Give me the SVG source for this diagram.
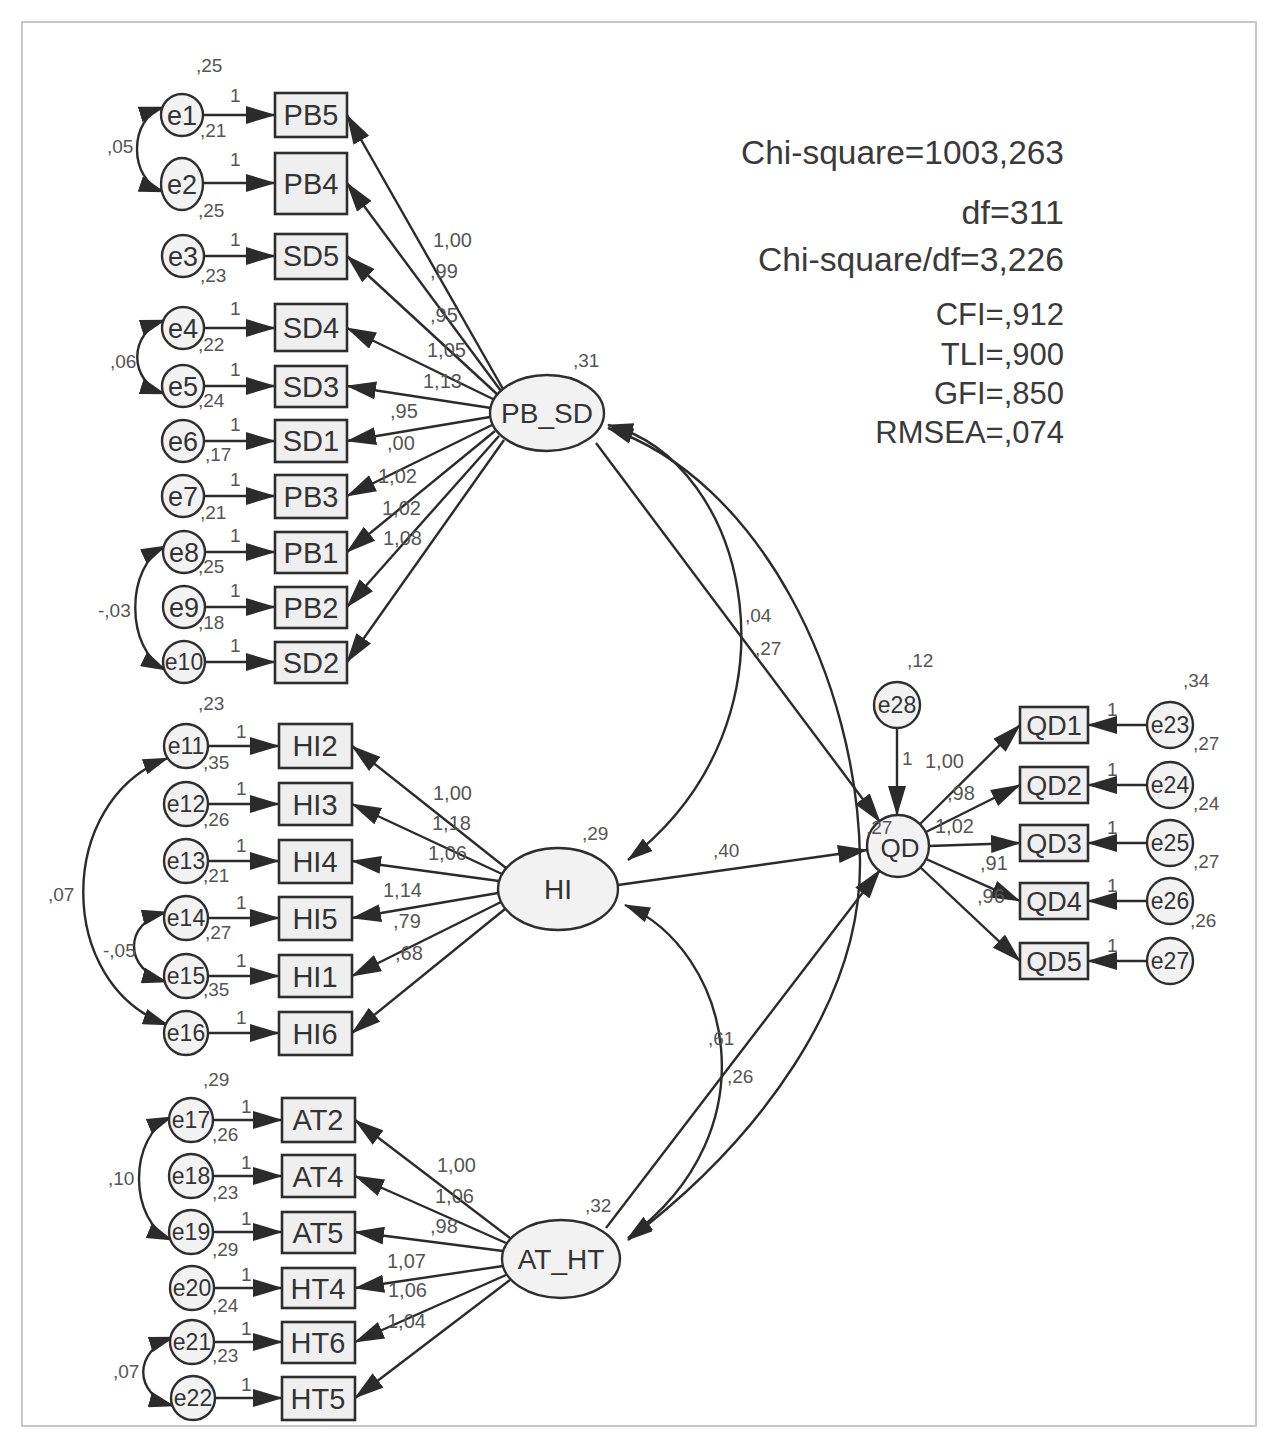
<svg xmlns="http://www.w3.org/2000/svg" width="1278" height="1449" viewBox="0 0 1278 1449">
<defs>
<marker id="a" markerUnits="userSpaceOnUse" markerWidth="30" markerHeight="18" refX="29" refY="9" orient="auto-start-reverse" viewBox="0 0 30 18"><path d="M0,0 L30,9 L0,18 z" fill="#2b2b2b"/></marker>
<marker id="s" markerUnits="userSpaceOnUse" markerWidth="26" markerHeight="16" refX="25" refY="8" orient="auto-start-reverse" viewBox="0 0 26 16"><path d="M0,0 L26,8 L0,16 z" fill="#2b2b2b"/></marker>
</defs>
<style>
.bx{fill:#efefef;stroke:#2e2e2e;stroke-width:2.6}
.el{fill:#f2f2f2;stroke:#2e2e2e;stroke-width:2.4}
.ln{fill:none;stroke:#2b2b2b;stroke-width:2.4}
.cv{fill:none;stroke:#2b2b2b;stroke-width:2.4}
.lb{font-family:"Liberation Sans",Arial,sans-serif;font-size:29px;fill:#333;text-anchor:middle}
.el1{font-family:"Liberation Sans",Arial,sans-serif;font-size:27px;fill:#333;text-anchor:middle}
.el2{font-family:"Liberation Sans",Arial,sans-serif;font-size:23px;fill:#333;text-anchor:middle}
.n{font-family:"Liberation Sans",Arial,sans-serif;font-size:19px;fill:#555}
.m{font-family:"Liberation Sans",Arial,sans-serif;font-size:20px;fill:#555}
.st{font-family:"Liberation Sans",Arial,sans-serif;font-size:31px;fill:#3a3a3a;text-anchor:end}
</style>
<rect x="0" y="0" width="1278" height="1449" fill="#ffffff"/>
<rect x="22" y="22" width="1234" height="1404" fill="none" stroke="#c8c8c8" stroke-width="2"/>

<g id="connectors">
<line class="ln" x1="203" y1="115" x2="275" y2="115" marker-end="url(#a)"/>
<line class="ln" x1="203" y1="183" x2="275" y2="183" marker-end="url(#a)"/>
<line class="ln" x1="204" y1="256" x2="275" y2="256" marker-end="url(#a)"/>
<line class="ln" x1="204" y1="328" x2="275" y2="328" marker-end="url(#a)"/>
<line class="ln" x1="204" y1="386" x2="275" y2="386" marker-end="url(#a)"/>
<line class="ln" x1="204" y1="441" x2="275" y2="441" marker-end="url(#a)"/>
<line class="ln" x1="204" y1="496" x2="275" y2="496" marker-end="url(#a)"/>
<line class="ln" x1="205" y1="552" x2="275" y2="552" marker-end="url(#a)"/>
<line class="ln" x1="205" y1="607" x2="275" y2="607" marker-end="url(#a)"/>
<line class="ln" x1="205" y1="662" x2="275" y2="662" marker-end="url(#a)"/>
<line class="ln" x1="207" y1="746" x2="279" y2="746" marker-end="url(#a)"/>
<line class="ln" x1="207" y1="804" x2="279" y2="804" marker-end="url(#a)"/>
<line class="ln" x1="207" y1="861" x2="279" y2="861" marker-end="url(#a)"/>
<line class="ln" x1="207" y1="918" x2="279" y2="918" marker-end="url(#a)"/>
<line class="ln" x1="207" y1="976" x2="279" y2="976" marker-end="url(#a)"/>
<line class="ln" x1="207" y1="1033" x2="279" y2="1033" marker-end="url(#a)"/>
<line class="ln" x1="212" y1="1120" x2="282" y2="1120" marker-end="url(#a)"/>
<line class="ln" x1="212" y1="1176" x2="282" y2="1176" marker-end="url(#a)"/>
<line class="ln" x1="212" y1="1232" x2="282" y2="1232" marker-end="url(#a)"/>
<line class="ln" x1="213" y1="1288" x2="282" y2="1288" marker-end="url(#a)"/>
<line class="ln" x1="213" y1="1342" x2="282" y2="1342" marker-end="url(#a)"/>
<line class="ln" x1="214" y1="1398" x2="282" y2="1398" marker-end="url(#a)"/>

<line class="ln" x1="503" y1="389" x2="347" y2="115" marker-end="url(#a)"/>
<line class="ln" x1="501" y1="391" x2="347" y2="183" marker-end="url(#a)"/>
<line class="ln" x1="498" y1="395" x2="347" y2="256" marker-end="url(#a)"/>
<line class="ln" x1="495" y1="400" x2="347" y2="328" marker-end="url(#a)"/>
<line class="ln" x1="491" y1="408" x2="347" y2="386" marker-end="url(#a)"/>
<line class="ln" x1="490" y1="417" x2="347" y2="441" marker-end="url(#a)"/>
<line class="ln" x1="492" y1="425" x2="347" y2="496" marker-end="url(#a)"/>
<line class="ln" x1="495" y1="431" x2="347" y2="552" marker-end="url(#a)"/>
<line class="ln" x1="499" y1="436" x2="347" y2="607" marker-end="url(#a)"/>
<line class="ln" x1="504" y1="440" x2="347" y2="662" marker-end="url(#a)"/>
<line class="ln" x1="506" y1="868" x2="352" y2="746" marker-end="url(#a)"/>
<line class="ln" x1="502" y1="874" x2="352" y2="804" marker-end="url(#a)"/>
<line class="ln" x1="499" y1="881" x2="352" y2="861" marker-end="url(#a)"/>
<line class="ln" x1="498" y1="893" x2="352" y2="918" marker-end="url(#a)"/>
<line class="ln" x1="501" y1="902" x2="352" y2="976" marker-end="url(#a)"/>
<line class="ln" x1="505" y1="909" x2="352" y2="1033" marker-end="url(#a)"/>
<line class="ln" x1="510" y1="1238" x2="355" y2="1120" marker-end="url(#a)"/>
<line class="ln" x1="506" y1="1243" x2="355" y2="1176" marker-end="url(#a)"/>
<line class="ln" x1="503" y1="1251" x2="355" y2="1232" marker-end="url(#a)"/>
<line class="ln" x1="503" y1="1266" x2="355" y2="1288" marker-end="url(#a)"/>
<line class="ln" x1="506" y1="1275" x2="355" y2="1342" marker-end="url(#a)"/>
<line class="ln" x1="510" y1="1280" x2="355" y2="1398" marker-end="url(#a)"/>

<path class="cv" d="M164,107 C128,118 128,180 164,192" marker-start="url(#s)" marker-end="url(#s)"/>
<path class="cv" d="M165,320 C128,332 128,382 165,394" marker-start="url(#s)" marker-end="url(#s)"/>
<path class="cv" d="M166,546 C125,565 125,650 166,670" marker-start="url(#s)" marker-end="url(#s)"/>
<path class="cv" d="M168,758 C55,800 55,985 168,1025" marker-start="url(#s)" marker-end="url(#s)"/>
<path class="cv" d="M167,912 C123,922 123,970 167,982" marker-start="url(#s)" marker-end="url(#s)"/>
<path class="cv" d="M172,1117 C128,1135 128,1222 172,1240" marker-start="url(#s)" marker-end="url(#s)"/>
<path class="cv" d="M174,1337 C133,1350 133,1395 174,1406" marker-start="url(#s)" marker-end="url(#s)"/>

<path class="cv" d="M608,425 C750,460 810,720 628,860" marker-start="url(#s)" marker-end="url(#s)"/>
<path class="cv" d="M608,428 C760,480 858,680 860,860 C862,1000 760,1140 628,1240" marker-start="url(#s)" marker-end="url(#s)"/>
<path class="cv" d="M625,905 C730,950 775,1130 628,1238" marker-start="url(#s)" marker-end="url(#s)"/>

<line class="ln" x1="596" y1="443" x2="880" y2="822" marker-end="url(#a)"/>
<line class="ln" x1="618" y1="885" x2="867" y2="850" marker-end="url(#a)"/>
<line class="ln" x1="606" y1="1228" x2="880" y2="870" marker-end="url(#a)"/>
<line class="ln" x1="897" y1="728" x2="897" y2="815" marker-end="url(#a)"/>

<line class="ln" x1="920" y1="824" x2="1020" y2="725" marker-end="url(#a)"/>
<line class="ln" x1="926" y1="832" x2="1020" y2="785" marker-end="url(#a)"/>
<line class="ln" x1="929" y1="846" x2="1020" y2="843" marker-end="url(#a)"/>
<line class="ln" x1="926" y1="859" x2="1020" y2="901" marker-end="url(#a)"/>
<line class="ln" x1="920" y1="867" x2="1020" y2="961" marker-end="url(#a)"/>
<line class="ln" x1="1147" y1="725" x2="1088" y2="725" marker-end="url(#a)"/>
<line class="ln" x1="1147" y1="785" x2="1088" y2="785" marker-end="url(#a)"/>
<line class="ln" x1="1147" y1="843" x2="1088" y2="843" marker-end="url(#a)"/>
<line class="ln" x1="1147" y1="901" x2="1088" y2="901" marker-end="url(#a)"/>
<line class="ln" x1="1147" y1="961" x2="1088" y2="961" marker-end="url(#a)"/>
</g>

<g id="PB5"><rect class="bx" x="275" y="93" width="72" height="44"/><text class="lb" x="311" y="125">PB5</text></g>
<g id="PB4"><rect class="bx" x="275" y="153" width="72" height="61"/><text class="lb" x="311" y="194">PB4</text></g>
<g id="SD5"><rect class="bx" x="275" y="234" width="72" height="45"/><text class="lb" x="311" y="266">SD5</text></g>
<g id="SD4"><rect class="bx" x="275" y="304" width="72" height="47"/><text class="lb" x="311" y="338">SD4</text></g>
<g id="SD3"><rect class="bx" x="275" y="366" width="72" height="41"/><text class="lb" x="311" y="397">SD3</text></g>
<g id="SD1"><rect class="bx" x="275" y="420" width="72" height="42"/><text class="lb" x="311" y="451">SD1</text></g>
<g id="PB3"><rect class="bx" x="275" y="475" width="72" height="43"/><text class="lb" x="311" y="507">PB3</text></g>
<g id="PB1"><rect class="bx" x="275" y="532" width="72" height="41"/><text class="lb" x="311" y="563">PB1</text></g>
<g id="PB2"><rect class="bx" x="275" y="587" width="72" height="41"/><text class="lb" x="311" y="618">PB2</text></g>
<g id="SD2"><rect class="bx" x="275" y="642" width="72" height="41"/><text class="lb" x="311" y="673">SD2</text></g>

<g id="HI2"><rect class="bx" x="279" y="724" width="73" height="44"/><text class="lb" x="315" y="756">HI2</text></g>
<g id="HI3"><rect class="bx" x="279" y="783" width="73" height="42"/><text class="lb" x="315" y="815">HI3</text></g>
<g id="HI4"><rect class="bx" x="279" y="840" width="73" height="43"/><text class="lb" x="315" y="872">HI4</text></g>
<g id="HI5"><rect class="bx" x="279" y="897" width="73" height="43"/><text class="lb" x="315" y="929">HI5</text></g>
<g id="HI1"><rect class="bx" x="279" y="955" width="73" height="42"/><text class="lb" x="315" y="987">HI1</text></g>
<g id="HI6"><rect class="bx" x="279" y="1012" width="73" height="43"/><text class="lb" x="315" y="1044">HI6</text></g>

<g id="AT2"><rect class="bx" x="282" y="1098" width="73" height="44"/><text class="lb" x="318" y="1130">AT2</text></g>
<g id="AT4"><rect class="bx" x="282" y="1155" width="73" height="42"/><text class="lb" x="318" y="1187">AT4</text></g>
<g id="AT5"><rect class="bx" x="282" y="1212" width="73" height="41"/><text class="lb" x="318" y="1243">AT5</text></g>
<g id="HT4"><rect class="bx" x="282" y="1268" width="73" height="40"/><text class="lb" x="318" y="1299">HT4</text></g>
<g id="HT6"><rect class="bx" x="282" y="1322" width="73" height="41"/><text class="lb" x="318" y="1353">HT6</text></g>
<g id="HT5"><rect class="bx" x="282" y="1377" width="73" height="43"/><text class="lb" x="318" y="1409">HT5</text></g>

<g id="QD1"><rect class="bx" x="1020" y="707" width="68" height="36"/><text class="lb" x="1054" y="735" style="font-size:27px">QD1</text></g>
<g id="QD2"><rect class="bx" x="1020" y="767" width="68" height="36"/><text class="lb" x="1054" y="795" style="font-size:27px">QD2</text></g>
<g id="QD3"><rect class="bx" x="1020" y="825" width="68" height="36"/><text class="lb" x="1054" y="853" style="font-size:27px">QD3</text></g>
<g id="QD4"><rect class="bx" x="1020" y="883" width="68" height="36"/><text class="lb" x="1054" y="911" style="font-size:27px">QD4</text></g>
<g id="QD5"><rect class="bx" x="1020" y="943" width="68" height="36"/><text class="lb" x="1054" y="971" style="font-size:27px">QD5</text></g>

<g id="PB_SD"><ellipse class="el" cx="547" cy="413" rx="57" ry="38"/><text class="lb" x="547" y="423" style="font-size:28px">PB_SD</text></g>
<g id="HI"><ellipse class="el" cx="558" cy="889" rx="60" ry="41"/><text class="lb" x="558" y="899" style="font-size:28px">HI</text></g>
<g id="AT_HT"><ellipse class="el" cx="561" cy="1259" rx="59" ry="39"/><text class="lb" x="561" y="1269" style="font-size:28px">AT_HT</text></g>
<g id="QD"><circle class="el" cx="898" cy="846" r="31"/><text class="lb" x="900" y="857" style="font-size:26px">QD</text></g>

<g id="e1"><circle class="el" cx="182" cy="115" r="21"/><text class="el1" x="182" y="125">e1</text></g>
<g id="e2"><ellipse class="el" cx="182" cy="184" rx="21" ry="26"/><text class="el1" x="182" y="194">e2</text></g>
<g id="e3"><circle class="el" cx="183" cy="256" r="21"/><text class="el1" x="183" y="266">e3</text></g>
<g id="e4"><circle class="el" cx="183" cy="328" r="21"/><text class="el1" x="183" y="338">e4</text></g>
<g id="e5"><circle class="el" cx="183" cy="386" r="21"/><text class="el1" x="183" y="396">e5</text></g>
<g id="e6"><circle class="el" cx="183" cy="441" r="21"/><text class="el1" x="183" y="451">e6</text></g>
<g id="e7"><circle class="el" cx="183" cy="496" r="21"/><text class="el1" x="183" y="506">e7</text></g>
<g id="e8"><circle class="el" cx="184" cy="552" r="21"/><text class="el1" x="184" y="562">e8</text></g>
<g id="e9"><circle class="el" cx="184" cy="607" r="21"/><text class="el1" x="184" y="617">e9</text></g>
<g id="e10"><circle class="el" cx="184" cy="662" r="21"/><text class="el2" x="184" y="670">e10</text></g>
<g id="e11"><circle class="el" cx="186" cy="746" r="22"/><text class="el2" x="186" y="754">e11</text></g>
<g id="e12"><circle class="el" cx="186" cy="804" r="22"/><text class="el2" x="186" y="812">e12</text></g>
<g id="e13"><circle class="el" cx="186" cy="861" r="22"/><text class="el2" x="186" y="869">e13</text></g>
<g id="e14"><circle class="el" cx="186" cy="918" r="22"/><text class="el2" x="186" y="926">e14</text></g>
<g id="e15"><circle class="el" cx="186" cy="976" r="22"/><text class="el2" x="186" y="984">e15</text></g>
<g id="e16"><circle class="el" cx="186" cy="1033" r="22"/><text class="el2" x="186" y="1041">e16</text></g>
<g id="e17"><circle class="el" cx="191" cy="1120" r="22"/><text class="el2" x="191" y="1128">e17</text></g>
<g id="e18"><circle class="el" cx="191" cy="1176" r="22"/><text class="el2" x="191" y="1184">e18</text></g>
<g id="e19"><circle class="el" cx="191" cy="1232" r="22"/><text class="el2" x="191" y="1240">e19</text></g>
<g id="e20"><circle class="el" cx="192" cy="1288" r="22"/><text class="el2" x="192" y="1296">e20</text></g>
<g id="e21"><circle class="el" cx="192" cy="1342" r="22"/><text class="el2" x="192" y="1350">e21</text></g>
<g id="e22"><circle class="el" cx="193" cy="1398" r="22"/><text class="el2" x="193" y="1406">e22</text></g>
<g id="e23"><circle class="el" cx="1170" cy="725" r="23"/><text class="el2" x="1170" y="733">e23</text></g>
<g id="e24"><circle class="el" cx="1170" cy="785" r="23"/><text class="el2" x="1170" y="793">e24</text></g>
<g id="e25"><circle class="el" cx="1170" cy="843" r="23"/><text class="el2" x="1170" y="851">e25</text></g>
<g id="e26"><circle class="el" cx="1170" cy="901" r="23"/><text class="el2" x="1170" y="909">e26</text></g>
<g id="e27"><circle class="el" cx="1170" cy="961" r="23"/><text class="el2" x="1170" y="969">e27</text></g>
<g id="e28"><circle class="el" cx="897" cy="705" r="23"/><text class="el2" x="897" y="713">e28</text></g>

<g id="labels">
<text class="n" x="196" y="72">,25</text>
<text class="n" x="200" y="137">,21</text>
<text class="n" x="198" y="217">,25</text>
<text class="n" x="200" y="282">,23</text>
<text class="n" x="198" y="351">,22</text>
<text class="n" x="198" y="407">,24</text>
<text class="n" x="205" y="461">,17</text>
<text class="n" x="200" y="519">,21</text>
<text class="n" x="198" y="573">,25</text>
<text class="n" x="198" y="629">,18</text>
<text class="n" x="198" y="710">,23</text>
<text class="n" x="203" y="769">,35</text>
<text class="n" x="203" y="826">,26</text>
<text class="n" x="203" y="882">,21</text>
<text class="n" x="205" y="939">,27</text>
<text class="n" x="203" y="996">,35</text>
<text class="n" x="203" y="1086">,29</text>
<text class="n" x="212" y="1141">,26</text>
<text class="n" x="212" y="1199">,23</text>
<text class="n" x="212" y="1256">,29</text>
<text class="n" x="212" y="1312">,24</text>
<text class="n" x="212" y="1362">,23</text>

<text class="n" x="230" y="102">1</text>
<text class="n" x="230" y="166">1</text>
<text class="n" x="230" y="246">1</text>
<text class="n" x="230" y="315">1</text>
<text class="n" x="230" y="376">1</text>
<text class="n" x="230" y="431">1</text>
<text class="n" x="230" y="486">1</text>
<text class="n" x="230" y="542">1</text>
<text class="n" x="230" y="597">1</text>
<text class="n" x="230" y="652">1</text>
<text class="n" x="236" y="738">1</text>
<text class="n" x="236" y="795">1</text>
<text class="n" x="236" y="852">1</text>
<text class="n" x="236" y="909">1</text>
<text class="n" x="236" y="967">1</text>
<text class="n" x="236" y="1024">1</text>
<text class="n" x="241" y="1113">1</text>
<text class="n" x="241" y="1169">1</text>
<text class="n" x="241" y="1225">1</text>
<text class="n" x="241" y="1281">1</text>
<text class="n" x="241" y="1335">1</text>
<text class="n" x="241" y="1391">1</text>

<text class="n" x="107" y="153">,05</text>
<text class="n" x="110" y="368">,06</text>
<text class="n" x="98" y="617">-,03</text>
<text class="n" x="48" y="901">,07</text>
<text class="n" x="103" y="957">-,05</text>
<text class="n" x="108" y="1185">,10</text>
<text class="n" x="113" y="1378">,07</text>

<text class="m" x="433" y="247">1,00</text>
<text class="m" x="430" y="278">,99</text>
<text class="m" x="430" y="322">,95</text>
<text class="m" x="427" y="357">1,05</text>
<text class="m" x="423" y="388">1,13</text>
<text class="m" x="390" y="418">,95</text>
<text class="m" x="387" y="450">,00</text>
<text class="m" x="378" y="483">1,02</text>
<text class="m" x="382" y="515">1,02</text>
<text class="m" x="383" y="545">1,08</text>

<text class="m" x="433" y="800">1,00</text>
<text class="m" x="432" y="830">1,18</text>
<text class="m" x="428" y="860">1,06</text>
<text class="m" x="383" y="897">1,14</text>
<text class="m" x="393" y="928">,79</text>
<text class="m" x="395" y="960">,68</text>

<text class="m" x="437" y="1172">1,00</text>
<text class="m" x="435" y="1203">1,06</text>
<text class="m" x="430" y="1233">,98</text>
<text class="m" x="387" y="1268">1,07</text>
<text class="m" x="388" y="1297">1,06</text>
<text class="m" x="387" y="1328">1,04</text>

<text class="n" x="573" y="367">,31</text>
<text class="n" x="582" y="840">,29</text>
<text class="n" x="585" y="1212">,32</text>

<text class="n" x="745" y="622">,04</text>
<text class="n" x="755" y="655">,27</text>
<text class="n" x="713" y="857">,40</text>
<text class="n" x="708" y="1045">,61</text>
<text class="n" x="727" y="1083">,26</text>
<text class="n" x="866" y="834">,27</text>

<text class="n" x="907" y="667">,12</text>
<text class="n" x="902" y="765">1</text>
<text class="m" x="925" y="768">1,00</text>
<text class="m" x="947" y="800">,98</text>
<text class="m" x="935" y="833">1,02</text>
<text class="m" x="980" y="870">,91</text>
<text class="m" x="977" y="903">,96</text>

<text class="n" x="1107" y="716">1</text>
<text class="n" x="1107" y="776">1</text>
<text class="n" x="1107" y="834">1</text>
<text class="n" x="1107" y="892">1</text>
<text class="n" x="1107" y="952">1</text>
<text class="n" x="1183" y="687">,34</text>
<text class="n" x="1193" y="750">,27</text>
<text class="n" x="1193" y="810">,24</text>
<text class="n" x="1193" y="868">,27</text>
<text class="n" x="1190" y="927">,26</text>
</g>

<g id="fit-statistics">
<text class="st" x="1064" y="164" style="font-size:34px" textLength="323" lengthAdjust="spacingAndGlyphs">Chi-square=1003,263</text>
<text class="st" x="1064" y="224" style="font-size:34px">df=311</text>
<text class="st" x="1064" y="271" style="font-size:33px" textLength="306" lengthAdjust="spacingAndGlyphs">Chi-square/df=3,226</text>
<text class="st" x="1064" y="325">CFI=,912</text>
<text class="st" x="1064" y="365">TLI=,900</text>
<text class="st" x="1064" y="404">GFI=,850</text>
<text class="st" x="1064" y="443">RMSEA=,074</text>
</g>
</svg>
